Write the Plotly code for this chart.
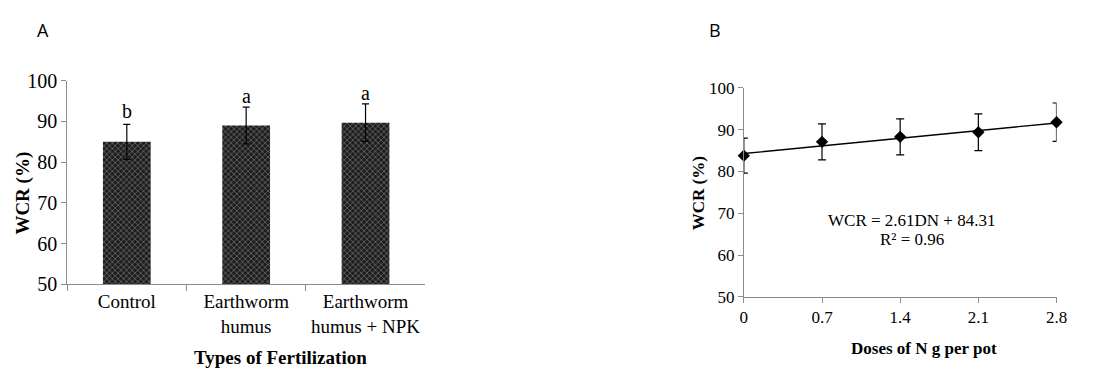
import plotly.graph_objects as go

W, H = 1106, 381

# Panel A data
categories = ["Control", "Earthworm<br>humus", "Earthworm<br>humus + NPK"]
wcr_a = [85.0, 89.0, 89.7]
err_a = [4.3, 4.5, 4.6]
letters = ["b", "a", "a"]
letter_y = [92.6, 96.3, 97.0]

# Panel B data
doses = [0, 0.7, 1.4, 2.1, 2.8]
dose_labels = ["0", "0.7", "1.4", "2.1", "2.8"]
wcr_b = [83.8, 87.1, 88.3, 89.4, 91.8]
err_b = [4.2, 4.3, 4.3, 4.4, 4.6]
slope, intercept = 2.61, 84.31
y_ticks = [50, 60, 70, 80, 90, 100]

def px_x(p):
    return p / W

def px_y(p):
    return 1 - p / H

serif = "Liberation Serif"
axis_col = "#8c8c8c"

fig = go.Figure()

fig.add_trace(go.Bar(
    x=categories, y=wcr_a, width=0.4,
    marker=dict(color="#1e1e1e", line=dict(width=0),
                pattern=dict(shape="x", size=4, solidity=0.35,
                             fgcolor="#b4b4b4", bgcolor="#1e1e1e")),
    error_y=dict(type="data", array=err_a, color="#000000", thickness=1.2, width=3.5),
    xaxis="x", yaxis="y", showlegend=False,
))

trend_x = [doses[0], doses[-1]]
trend_y = [slope * v + intercept for v in trend_x]
fig.add_trace(go.Scatter(
    x=trend_x, y=trend_y, mode="lines",
    line=dict(color="#000000", width=1.3),
    xaxis="x2", yaxis="y2", showlegend=False,
))
fig.add_trace(go.Scatter(
    x=doses, y=wcr_b, mode="markers",
    marker=dict(symbol="diamond", size=9.5, color="#000000"),
    error_y=dict(type="data", array=err_b, color="#000000", thickness=1.2, width=4),
    xaxis="x2", yaxis="y2", showlegend=False, cliponaxis=False,
))

common_y = dict(
    range=[50, 100], tickvals=y_ticks, showgrid=False, zeroline=False,
    showline=True, linecolor=axis_col, linewidth=1,
    ticks="outside", ticklen=5, tickcolor=axis_col,
)

fig.update_layout(
    width=W, height=H, autosize=False,
    margin=dict(l=0, r=0, t=0, b=0, pad=0),
    paper_bgcolor="white", plot_bgcolor="white",
    font=dict(family=serif, color="#000000"),
    xaxis=dict(
        domain=[px_x(64), px_x(427)], anchor="y", range=[-0.5, 2.5],
        showgrid=False, showline=True, linecolor=axis_col, linewidth=1,
        ticks="outside", ticklen=6, tickcolor=axis_col, tickson="boundaries",
        tickfont=dict(family=serif, size=19, color="#000000"),
    ),
    yaxis=dict(
        domain=[px_y(290), px_y(74)], anchor="x",
        tickfont=dict(family=serif, size=20, color="#000000"),
        **common_y,
    ),
    xaxis2=dict(
        domain=[px_x(750), px_x(1067)], anchor="y2", range=[0, 2.8],
        tickvals=doses, ticktext=dose_labels,
        showgrid=False, zeroline=False, showline=True, linecolor=axis_col, linewidth=1,
        ticks="outside", ticklen=5, tickcolor=axis_col,
        tickfont=dict(family=serif, size=17, color="#000000"),
    ),
    yaxis2=dict(
        domain=[px_y(303.3), px_y(81.7)], anchor="x2",
        tickfont=dict(family=serif, size=17, color="#000000"),
        **common_y,
    ),
)

ann = []
for c, ly, t in zip(categories, letter_y, letters):
    ann.append(dict(x=c, y=ly, xref="x", yref="y", text=t, showarrow=False,
                    font=dict(family=serif, size=20), yanchor="middle"))

def paper_text(x, y, text, size, family=serif, bold=False, angle=0):
    return dict(x=px_x(x), y=px_y(y), xref="paper", yref="paper",
                text=f"<b>{text}</b>" if bold else text, showarrow=False,
                textangle=angle, xanchor="center", yanchor="middle",
                font=dict(family=family, size=size, color="#000000"))

ann += [
    paper_text(40, 20, "A", 18, family="Open Sans"),
    paper_text(721, 20, "B", 18, family="Open Sans"),
    paper_text(19, 193, "WCR (%)", 19, bold=True, angle=-90),
    paper_text(280, 368, "Types of Fertilization", 19, bold=True),
    paper_text(704, 193, "WCR (%)", 17, bold=True, angle=-90),
    paper_text(933, 358, "Doses of N g per pot", 17, bold=True),
    paper_text(920, 222, "WCR = 2.61DN + 84.31", 17),
    paper_text(920, 243, "R² = 0.96", 17),
]
fig.update_layout(annotations=ann)

fig.write_html(
    "out.html",
    config={"displayModeBar": False},
    post_script="document.body.style.margin='0';document.body.style.overflow='hidden';",
)
